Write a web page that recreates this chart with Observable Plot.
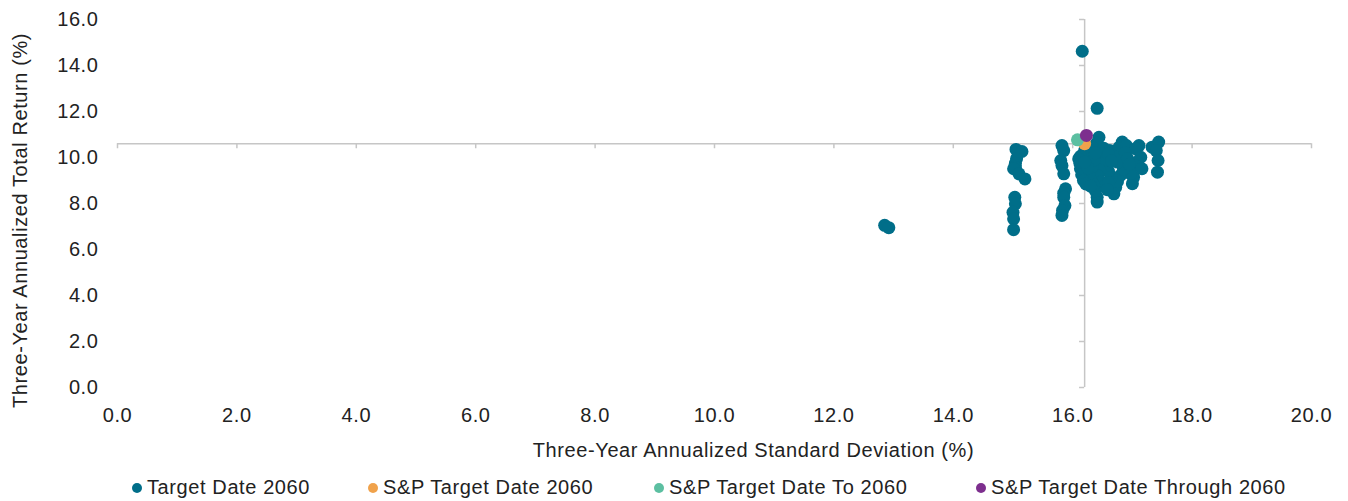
<!DOCTYPE html>
<html>
<head>
<meta charset="utf-8">
<script src="https://cdn.jsdelivr.net/npm/d3@7"></script>
<script src="https://cdn.jsdelivr.net/npm/@observablehq/plot@0.6"></script>
<style>
  html, body { margin: 0; padding: 0; background: #fff; }
  body { width: 1348px; height: 501px; overflow: hidden; font-family: "Liberation Sans", Arial, sans-serif; color: #222; }
  #chart svg text { letter-spacing: 0.6px; }
  #legend { position: relative; width: 1348px; height: 29px; font-size: 20px; letter-spacing: 0.6px; }
  .item { position: absolute; top: 1px; height: 29px; display: flex; align-items: center; white-space: nowrap; }
  .sw { width: 10px; height: 10px; border-radius: 50%; margin-right: 5px; }
</style>
</head>
<body>
<div id="chart"></div>
<div id="legend"></div>
<script>
// ---- data ----
const xTicks = [0, 2, 4, 6, 8, 10, 12, 14, 16, 18, 20];
const yTicks = [0, 2, 4, 6, 8, 10, 12, 14, 16];
const xTitle = "Three-Year Annualized Standard Deviation (%)";
const yTitle = "Three-Year Annualized Total Return (%)";
const crossX = 16.2;   // vertical axis crosses at (benchmark std dev)
const crossY = 10.6;   // horizontal axis crosses at (benchmark return)

const seriesNames = ["Target Date 2060", "S&P Target Date 2060", "S&P Target Date To 2060", "S&P Target Date Through 2060"];
const seriesColors = ["#006E89", "#F0A24B", "#5CBFA1", "#7D2F8E"];

// Target Date 2060 funds: [std dev, return]
const fundPoints = [
  [12.85, 7.05], [12.92, 6.95],
  [15.05, 10.35], [15.15, 10.26], [15.06, 9.95], [15.04, 9.75], [15.04, 9.58], [15.01, 9.51], [15.10, 9.29], [15.20, 9.07],
  [15.03, 8.27], [15.04, 7.99], [15.00, 7.62], [15.01, 7.33], [15.01, 6.86],
  [15.82, 10.52], [15.85, 10.30], [15.80, 9.87], [15.82, 9.65], [15.85, 9.29],
  [15.88, 8.64], [15.85, 8.45], [15.85, 8.27], [15.87, 7.91], [15.83, 7.70], [15.82, 7.48],
  [16.16, 14.62], [16.41, 12.14],
  [16.44, 10.88], [16.40, 10.62], [16.32, 10.45], [16.52, 10.40], [16.62, 10.30], [16.83, 10.67], [16.78, 10.45],
  [16.90, 10.52], [17.11, 10.52], [17.05, 10.38], [17.33, 10.45], [17.44, 10.67], [17.40, 10.30], [17.43, 9.87],
  [17.42, 9.36], [17.14, 10.01], [17.08, 9.80], [17.05, 9.65], [17.16, 9.51], [17.00, 8.86], [17.02, 9.14],
  [16.97, 9.30], [16.80, 9.22], [16.85, 9.50], [16.75, 9.80], [16.70, 10.05], [16.88, 10.20], [16.69, 8.42],
  [16.72, 8.70], [16.75, 8.95], [16.65, 9.15], [16.60, 9.40], [16.58, 9.65], [16.55, 9.90], [16.50, 10.15],
  [16.47, 9.75], [16.45, 9.45], [16.42, 9.20], [16.48, 8.95], [16.52, 8.75], [16.41, 8.27], [16.41, 8.06],
  [16.38, 8.55], [16.35, 8.80], [16.30, 9.05], [16.28, 9.30], [16.33, 9.60], [16.36, 9.90], [16.25, 10.15],
  [16.20, 10.30], [16.13, 10.05], [16.10, 9.94], [16.13, 9.51], [16.12, 9.75], [16.15, 9.25], [16.18, 9.00],
  [16.22, 8.85], [16.25, 9.55], [16.20, 9.80], [16.38, 10.20], [16.60, 10.15], [16.65, 9.85], [16.92, 9.95],
  [16.95, 9.70], [16.60, 8.90], [16.58, 8.60], [16.30, 8.75]
];

// Benchmarks: [std dev, return]
const benchSP2060 = [16.20, 10.60];
const benchTo2060 = [16.08, 10.77];
const benchThrough2060 = [16.23, 10.96];

// ---- build ----
const funds = fundPoints.map(([x, y]) => ({x, y}));
const bench = [
  {x: benchSP2060[0], y: benchSP2060[1], s: seriesNames[1]},
  {x: benchTo2060[0], y: benchTo2060[1], s: seriesNames[2]},
  {x: benchThrough2060[0], y: benchThrough2060[1], s: seriesNames[3]}
];
const fmt = d => d.toFixed(1);
const axisColor = "#C6C6C6";

const chart = Plot.plot({
  width: 1348,
  height: 472,
  marginLeft: 117,
  marginRight: 37,
  marginTop: 19,
  marginBottom: 85,
  x: {domain: [0, 20]},
  y: {domain: [0, 16]},
  color: {domain: seriesNames, range: seriesColors},
  style: {fontFamily: "'Liberation Sans', Arial, sans-serif", fontSize: "20px", color: "#222", background: "#fff"},
  marks: [
    Plot.axisX(xTicks, {tickSize: 0, tickPadding: 20, tickFormat: fmt, label: null, fontSize: 20}),
    Plot.axisY(yTicks, {tickSize: 0, tickPadding: 19, tickFormat: fmt, label: null, fontSize: 20}),
    Plot.ruleY([crossY], {x1: 0, x2: 20, stroke: axisColor, strokeWidth: 1.5}),
    Plot.ruleX(xTicks, {x: d => d, y1: crossY, y2: crossY - 0.22, stroke: axisColor, strokeWidth: 1.5}),
    Plot.ruleX([crossX], {y1: 0, y2: 16, stroke: axisColor, strokeWidth: 1.5}),
    Plot.ruleY(yTicks, {y: d => d, x1: crossX - 0.085, x2: crossX, stroke: axisColor, strokeWidth: 1.5}),
    Plot.dot(funds, {x: "x", y: "y", r: 6.5, fill: seriesColors[0]}),
    Plot.dot(bench, {x: "x", y: "y", r: 6.5, fill: "s"}),
    Plot.text([xTitle], {frameAnchor: "bottom", dy: 63, dx: 39, textAnchor: "middle", lineAnchor: "middle", fill: "#222", fontSize: 20}),
    Plot.text([yTitle], {frameAnchor: "left", dx: -97, dy: 17, rotate: -90, textAnchor: "middle", lineAnchor: "middle", fill: "#222", fontSize: 20})
  ]
});
document.getElementById("chart").appendChild(chart);

// legend
const legendPos = [132, 368, 654, 976];
const legend = document.getElementById("legend");
seriesNames.forEach((name, i) => {
  const item = document.createElement("div");
  item.className = "item";
  item.style.left = legendPos[i] + "px";
  const sw = document.createElement("span");
  sw.className = "sw";
  sw.style.background = seriesColors[i];
  const label = document.createElement("span");
  label.textContent = name;
  item.appendChild(sw);
  item.appendChild(label);
  legend.appendChild(item);
});
</script>
</body>
</html>
